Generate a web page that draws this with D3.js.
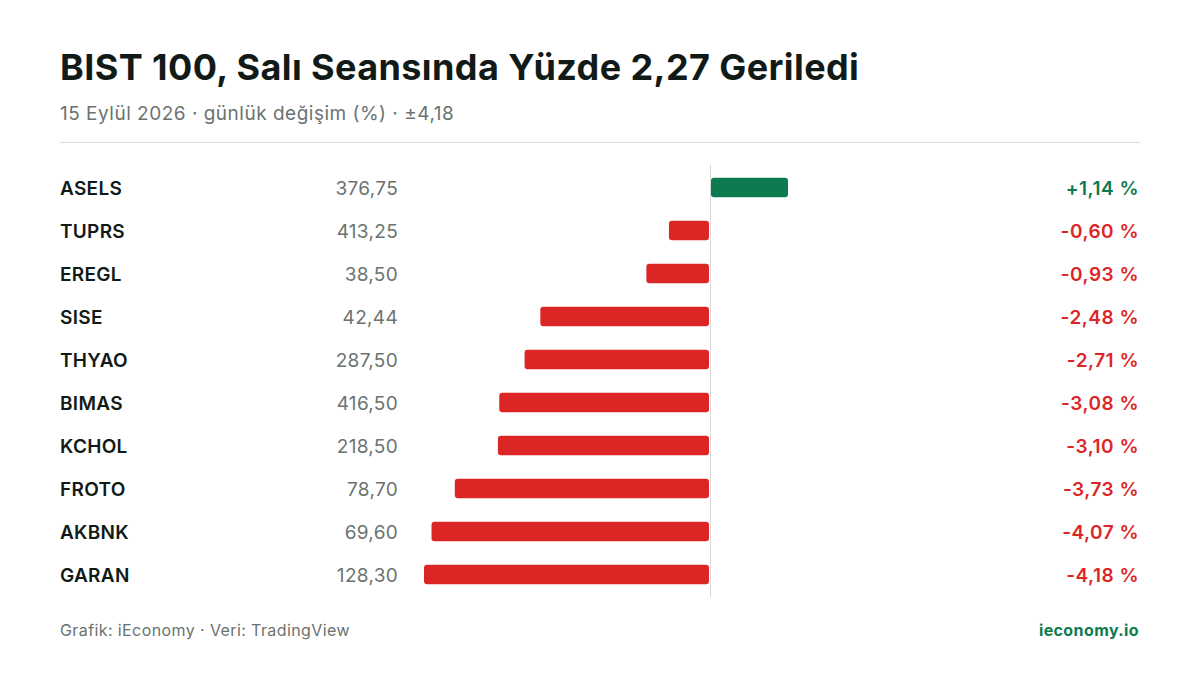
<!DOCTYPE html>
<html><head><meta charset="utf-8">
<script src="https://cdn.jsdelivr.net/npm/d3@7"></script>
<style>body{margin:0;background:#fff}svg{display:block}text{font-family:Inter,"Noto Sans",sans-serif}</style>
</head><body><svg id="c" width="1200" height="675"></svg>
<script>
const tickers=["ASELS","TUPRS","EREGL","SISE","THYAO","BIMAS","KCHOL","FROTO","AKBNK","GARAN"];
const prices=["376,75","413,25","38,50","42,44","287,50","416,50","218,50","78,70","69,60","128,30"];
const changes=[1.14,-0.60,-0.93,-2.48,-2.71,-3.08,-3.10,-3.73,-4.07,-4.18];
const maxAbs=4.18;
const svg=d3.select("#c");
const green="#0e7a50",red="#dc2626";
const fmt=v=>(v>0?"+":"-")+Math.abs(v).toFixed(2).replace(".",",")+" %";
svg.append("text").attr("x",60).attr("y",80).attr("font-size",36).attr("letter-spacing",0.4).attr("font-weight",700).attr("fill","#111a17").text("BIST 100, Salı Seansında Yüzde 2,27 Geriledi");
svg.append("text").attr("x",60).attr("y",120).attr("font-size",19).attr("letter-spacing",0.5).attr("fill","#6b7370").text("15 Eylül 2026 · günlük değişim (%) · ±4,18");
svg.append("line").attr("x1",60).attr("x2",1140).attr("y1",142.5).attr("y2",142.5).attr("stroke","#dddddd");
const x=d3.scaleLinear().domain([-maxAbs,maxAbs]).range([424,996]);
const y=d3.scaleBand().domain(tickers).range([166,596]).paddingInner(0.55).paddingOuter(0.275);
svg.append("line").attr("x1",x(0)+0.5).attr("x2",x(0)+0.5).attr("y1",165).attr("y2",597).attr("stroke","#d8d8d8");
const g=svg.selectAll("g.r").data(tickers).enter().append("g");
g.append("rect").attr("x",(d,i)=>changes[i]<0?x(changes[i]):x(0)+1).attr("width",(d,i)=>Math.abs(x(changes[i])-x(0))-1)
 .attr("y",d=>y(d)).attr("height",y.bandwidth()).attr("rx",3).attr("fill",(d,i)=>changes[i]>0?green:red);
const cy=d=>y(d)+y.bandwidth()/2+7;
g.append("text").attr("x",60).attr("y",cy).attr("font-size",19).attr("letter-spacing",0.3).attr("font-weight",600).attr("fill","#111a17").text(d=>d);
g.append("text").attr("x",398).attr("y",cy).attr("text-anchor","end").attr("font-size",19).attr("letter-spacing",0.3).attr("fill","#6b7370").text((d,i)=>prices[i]);
g.append("text").attr("x",1139).attr("y",cy).attr("text-anchor","end").attr("font-size",19).attr("letter-spacing",0.5).attr("font-weight",600).attr("fill",(d,i)=>changes[i]>0?green:red).text((d,i)=>fmt(changes[i]));
svg.append("text").attr("x",60).attr("y",636).attr("font-size",16).attr("letter-spacing",0.4).attr("fill","#6b7370").text("Grafik: iEconomy · Veri: TradingView");
svg.append("text").attr("x",1139).attr("y",636).attr("text-anchor","end").attr("font-size",16).attr("letter-spacing",0.4).attr("font-weight",700).attr("fill",green).text("ieconomy.io");
</script></body></html>
